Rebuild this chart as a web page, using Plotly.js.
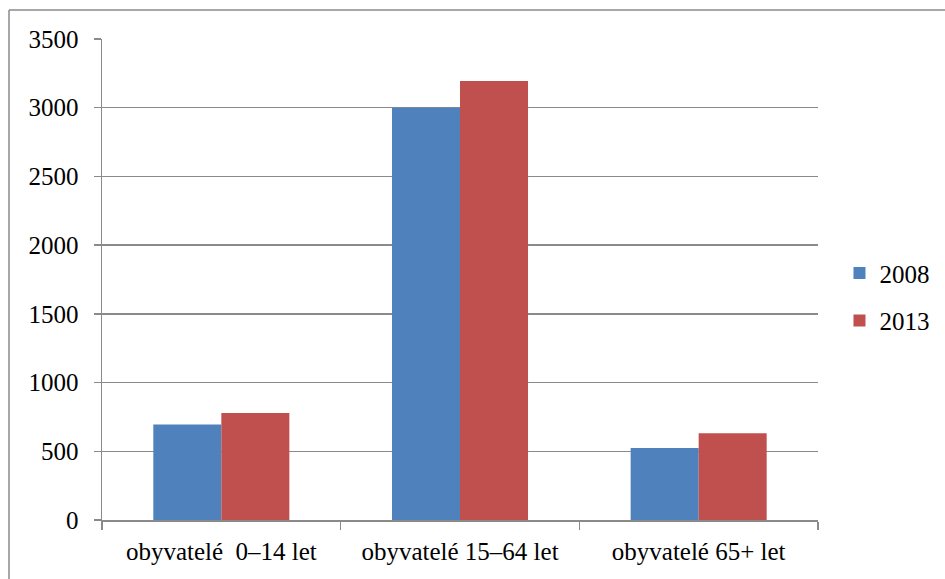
<!DOCTYPE html>
<html>
<head>
<meta charset="utf-8">
<script src="https://cdn.plot.ly/plotly-3.0.1.min.js"></script>
<style>
html, body { margin: 0; padding: 0; background: #fff; }
#chart { width: 945px; height: 579px; }
</style>
</head>
<body>
<div id="chart"></div>
<script>
const categories = ["obyvatelé\u00a0 0–14 let", "obyvatelé 15–64 let", "obyvatelé 65+ let"];
const seriesNames = ["2008", "2013"];
const values2008 = [695, 3000, 524];
const values2013 = [778, 3195, 632];
const yTicks = [0, 500, 1000, 1500, 2000, 2500, 3000, 3500];

const FAMILY = "Liberation Serif";
const gridColor = "#8a8a8a";
function mkFont() { return { family: FAMILY, size: 25, color: "#000" }; }

const traces = [
  {
    type: "bar", name: seriesNames[0], x: categories, y: values2008,
    legendgroup: "a",
    marker: { color: "#4F81BD" }
  },
  {
    type: "bar", name: seriesNames[1], x: categories, y: values2013,
    legendgroup: "b",
    marker: { color: "#C0504D" }
  }
];

const layout = {
  width: 945, height: 579,
  margin: { l: 102, r: 127, t: 39, b: 59, autoexpand: false },
  font: mkFont(),
  barmode: "group",
  bargap: 0.43,
  bargroupgap: 0,
  showlegend: true,
  legend: {
    x: 1.03, xanchor: "left", y: 0.464, yanchor: "middle",
    traceorder: "grouped", tracegroupgap: 12,
    font: mkFont()
  },
  xaxis: {
    type: "category",
    showline: true, linecolor: gridColor, linewidth: 1.5,
    ticks: "outside", tickson: "boundaries", ticklen: 8, tickcolor: gridColor, tickwidth: 1.5,
    showgrid: false, zeroline: false,
    tickfont: mkFont(),
    ticklabelstandoff: 8
  },
  yaxis: {
    range: [0, 3500], tickvals: yTicks, ticktext: yTicks.map(String),
    showline: true, linecolor: gridColor, linewidth: 1.5,
    ticks: "outside", ticklen: 7, tickcolor: gridColor, tickwidth: 1.5,
    showgrid: true, gridcolor: gridColor, gridwidth: 1.5,
    zeroline: false,
    tickfont: mkFont(),
    ticklabelstandoff: 10
  },
  shapes: [
    { type: "line", xref: "paper", yref: "paper", x0: (9 - 102) / 716, x1: 2, y0: (520 - 10) / 481, y1: (520 - 10) / 481,
      line: { color: "#8a8a8a", width: 1.5 } },
    { type: "line", xref: "paper", yref: "paper", x0: (9 - 102) / 716, x1: (9 - 102) / 716, y0: (520 - 10) / 481, y1: -1,
      line: { color: "#8a8a8a", width: 1.5 } }
  ]
};

Plotly.newPlot("chart", traces, layout, { displayModeBar: false, staticPlot: true });
</script>
</body>
</html>
